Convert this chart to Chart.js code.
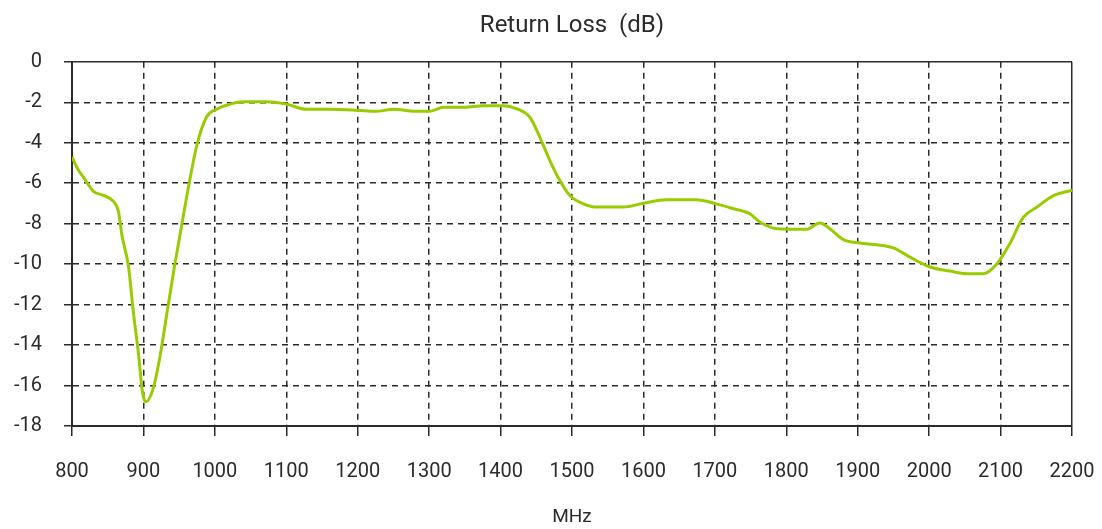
<!DOCTYPE html>
<html lang="en">
<head>
    <meta charset="UTF-8">
    <title>Return Loss</title>
    <script src="https://cdn.jsdelivr.net/npm/chart.js@4.4.0/dist/chart.umd.min.js"></script>
    <style>
        html, body {
            margin: 0;
            padding: 0;
            background: #fff;
        }
        #wrap {
            width: 1102px;
            height: 529px;
        }
    </style>
</head>
<body>
    <div id="wrap"><canvas id="rl"></canvas></div>
<script>
    // frequency points (MHz) and return loss (dB)
    const freqs = [
        800, 808, 816, 830, 844, 858, 865, 870, 879, 886, 893, 899, 904, 914, 923, 933,
        944, 954, 963, 975, 988, 1003, 1021, 1040, 1072, 1100, 1128, 1160, 1200, 1225,
        1250, 1280, 1300, 1320, 1350, 1376, 1404, 1423, 1441, 1455, 1469, 1483, 1497,
        1516, 1535, 1572, 1600, 1632, 1674, 1702, 1726, 1749, 1763, 1787, 1828, 1847,
        1861, 1880, 1903, 1927, 1950, 1973, 2001, 2029, 2053, 2076, 2095, 2113, 2132,
        2151, 2174, 2200
    ];
    const returnLoss = [
        -4.7, -5.3, -5.7, -6.4, -6.6, -6.9, -7.4, -8.6, -10.1, -12.4, -14.4, -16.4, -16.8, -16.1, -14.6, -12.4,
        -10.0, -8.0, -6.2, -4.1, -2.75, -2.33, -2.09, -1.97, -1.97, -2.09, -2.35, -2.35, -2.4, -2.45,
        -2.35, -2.45, -2.45, -2.25, -2.25, -2.17, -2.17, -2.33, -2.74, -3.73, -4.88, -5.87, -6.61,
        -7.02, -7.18, -7.18, -6.99, -6.82, -6.82, -7.02, -7.26, -7.51, -7.92, -8.25, -8.28, -7.97,
        -8.25, -8.79, -8.96, -9.04, -9.2, -9.65, -10.14, -10.34, -10.47, -10.47, -9.98, -8.99, -7.68,
        -7.18, -6.61, -6.35
    ];
    const xTicks = [800, 900, 1000, 1100, 1200, 1300, 1400, 1500, 1600, 1700, 1800, 1900, 2000, 2100, 2200];
    const yTicks = [0, -2, -4, -6, -8, -10, -12, -14, -16, -18];

    const ink = '#2b2b2b';
    const font = 'Roboto, "DejaVu Sans", sans-serif';

    const points = freqs.map((f, i) => ({ x: f, y: returnLoss[i] }));

    new Chart(document.getElementById('rl'), {
        type: 'line',
        data: {
            datasets: [{
                label: 'Return Loss',
                data: points,
                borderColor: '#99cc00',
                borderWidth: 3,
                pointRadius: 0,
                fill: false,
                cubicInterpolationMode: 'monotone'
            }]
        },
        options: {
            responsive: true,
            maintainAspectRatio: false,
            animation: false,
            layout: { padding: { left: 0, right: 0, top: 0, bottom: 0 } },
            plugins: {
                legend: { display: false },
                tooltip: { enabled: false },
                title: {
                    display: true,
                    text: 'Return Loss  (dB)',
                    fullSize: false,
                    color: ink,
                    font: { family: font, size: 24, weight: 'normal' },
                    padding: { top: 12, bottom: 21 }
                }
            },
            scales: {
                x: {
                    type: 'linear',
                    min: 800,
                    max: 2200,
                    afterBuildTicks: (s) => { s.ticks = xTicks.map(v => ({ value: v })); },
                    afterFit: (s) => { s.paddingRight = 30; s.height = 103; },
                    ticks: {
                        color: ink,
                        padding: 24,
                        maxRotation: 0,
                        font: { family: font, size: 20 },
                        callback: (v) => String(v)
                    },
                    grid: {
                        color: ink,
                        lineWidth: 1.5,
                        tickLength: 10,
                        tickColor: ink,
                        tickWidth: 1.5
                    },
                    border: {
                        display: true,
                        color: ink,
                        width: 2,
                        dash: (c) => (c.tick && (c.tick.value === 2200 || c.tick.value === 800)) ? [] : [6, 5]
                    },
                    title: {
                        display: true,
                        text: 'MHz',
                        color: ink,
                        font: { family: font, size: 19 },
                        padding: { top: 20, bottom: 0 }
                    }
                },
                y: {
                    min: -18,
                    max: 0,
                    afterBuildTicks: (s) => { s.ticks = yTicks.map(v => ({ value: v })); },
                    afterFit: (s) => { s.width = 72; },
                    ticks: {
                        color: ink,
                        padding: 22,
                        font: { family: font, size: 20 },
                        callback: (v) => String(v)
                    },
                    grid: {
                        color: ink,
                        lineWidth: 1.5,
                        tickLength: 8,
                        tickColor: ink,
                        tickWidth: 1.5
                    },
                    border: {
                        display: true,
                        color: ink,
                        width: 2,
                        dash: (c) => (c.tick && (c.tick.value === 0 || c.tick.value === -18)) ? [] : [6, 5]
                    }
                }
            }
        }
    });
</script>
</body>
</html>
